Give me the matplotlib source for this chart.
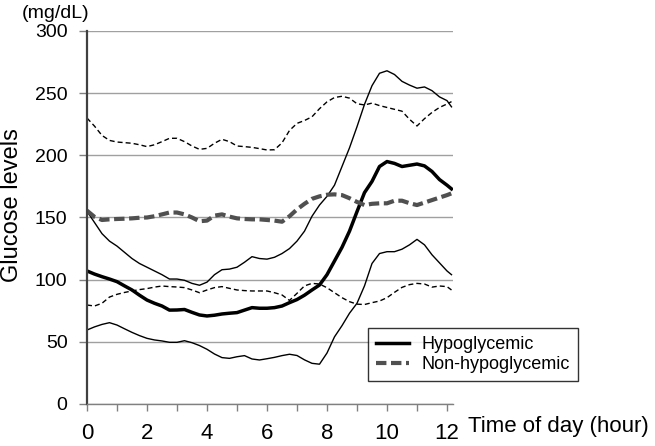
import numpy as np
import matplotlib
matplotlib.use('Agg')
import matplotlib.pyplot as plt

plt.rcParams['font.family'] = ['Liberation Sans', 'DejaVu Sans']

# time of day (hour), quarter-hour readings
hours = [0, 0.25, 0.5, 0.75, 1, 1.25, 1.5, 1.75, 2, 2.25, 2.5, 2.75,
         3, 3.25, 3.5, 3.75, 4, 4.25, 4.5, 4.75, 5, 5.25, 5.5, 5.75,
         6, 6.25, 6.5, 6.75, 7, 7.25, 7.5, 7.75, 8, 8.25, 8.5, 8.75,
         9, 9.25, 9.5, 9.75, 10, 10.25, 10.5, 10.75, 11, 11.25, 11.5, 11.75,
         12, 12.15]

# hypoglycemic group: mean, upper, lower
hypo_mean = [107, 104.5, 102.4, 100.5, 98.4, 95, 91.7, 87.5, 83.6, 81, 78.8, 75.5,
             75.6, 76, 73.7, 71.6, 70.8, 71.4, 72.4, 73, 73.5, 75.5, 77.5, 77,
             77, 77.5, 78.8, 81.5, 84, 87.5, 91.7, 95.7, 104, 115, 126, 139,
             154.7, 170, 179, 191, 195, 193.5, 191, 192, 193, 191.5, 187, 180.5,
             176, 173]
hypo_upper = [155, 146, 137, 131, 127, 122, 117, 113, 110, 107, 104, 100.5,
              100.5, 99.5, 97, 95.5, 98, 104, 108, 108.5, 110, 114, 118.5, 117,
              116.5, 118, 121, 125, 131, 139, 151, 160, 167, 176, 191, 206,
              223, 241, 256, 266, 268, 265, 259.5, 256.5, 254, 255, 252, 247,
              244, 239]
hypo_lower = [59.5, 62, 64, 65.4, 63.5, 60.5, 57.6, 55, 52.8, 51.5, 50.7, 49.6,
              49.6, 50.9, 49.3, 47, 44, 40.2, 37.3, 36.7, 38, 38.9, 36.2, 35.4,
              36.4, 37.5, 38.9, 40, 39, 35.5, 32.7, 32, 41, 54, 63, 73,
              81, 95, 113, 121, 122.5, 122.5, 124.5, 128, 132.4, 128, 120, 113.5,
              107, 104]

# non-hypoglycemic group: mean, upper, lower
non_mean = [155.5, 150.5, 148, 148.5, 148.8, 149, 149.3, 149.8, 150, 151, 152.5, 154,
            154, 152.5, 150, 147, 147.5, 151.5, 152.5, 150.7, 149.3, 148.8, 148.5, 148.5,
            148, 147.5, 146.6, 151, 156.5, 161, 165, 167, 168.3, 168.6, 168, 165.5,
            162.5, 160, 161, 161.4, 161.4, 163.5, 163.5, 161.5, 160, 162, 164, 166,
            168, 169.4]
non_upper = [230, 223.5, 216, 212, 210.7, 210.2, 209.7, 208.5, 207, 208.5, 211, 213.7,
             213.7, 211, 207.5, 204.8, 205.6, 209.7, 212.9, 211, 207.5, 207, 206.4, 205.4,
             204.3, 204.5, 210, 220, 225.7, 228, 231, 237.5, 243, 246.5, 247.5, 246,
             241.5, 240.5, 242, 240, 238.5, 237, 235.5, 229, 223.6, 229.5, 234.5, 238.5,
             241.3, 243.2]
non_lower = [79.6, 78.8, 81, 86, 88.2, 89.7, 90.9, 92, 92.8, 94, 94.9, 94.4,
             94.1, 93.6, 91.7, 89.5, 91.7, 93.6, 94.4, 93, 91.7, 91.2, 90.9, 90.9,
             90.9, 89.5, 87.7, 83.3, 89, 95, 97, 96.5, 93.5, 89.5, 85.5, 82.3,
             80.3, 80, 81.5, 82.8, 85.5, 89.8, 93.8, 96, 97, 96.5, 94, 94.9,
             94.4, 91.7]

xticks = [0, 2, 4, 6, 8, 10, 12]
yticks = [0, 50, 100, 150, 200, 250, 300]

fig = plt.figure(figsize=(6.55, 4.46), dpi=100)
ax = fig.add_axes([0.1328, 0.0942, 0.5588, 0.8363])

ax.plot(hours, hypo_upper, color='black', lw=1.0)
ax.plot(hours, hypo_lower, color='black', lw=1.0)
ax.plot(hours, non_upper, color='black', lw=1.0, linestyle=(0, (3.6, 2.2)))
ax.plot(hours, non_lower, color='black', lw=1.0, linestyle=(0, (3.6, 2.2)))
l1, = ax.plot(hours, hypo_mean, color='black', lw=2.5, solid_joinstyle='round')
l2, = ax.plot(hours, non_mean, color='#505050', lw=3.0, linestyle=(0, (2.5, 1.1)))

ax.set_xlim(0, 12.2)
ax.set_ylim(0, 300)
ax.set_xticks(xticks)
ax.set_xticks(range(0, 13), minor=True)
ax.set_yticks(yticks)
ax.tick_params(axis='x', which='both', direction='out', length=5, width=1, color='#808080')
ax.tick_params(axis='x', labelsize=16, pad=9)
ax.tick_params(axis='y', direction='out', length=6, width=1, color='#808080', labelsize=14, pad=8)

ax.grid(axis='y', color='#a0a0a0', lw=1.0)
ax.set_axisbelow(True)
for s in ['top', 'right']:
    ax.spines[s].set_visible(False)
ax.spines['left'].set_color('#404040')
ax.spines['left'].set_linewidth(1.6)
ax.spines['bottom'].set_color('#808080')
ax.spines['bottom'].set_linewidth(1.0)

fig.text(56 / 655, 1 - 13 / 446, '(mg/dL)', fontsize=14, ha='center', va='center')
fig.text(12 / 655, 1 - 205 / 446, 'Glucose levels', fontsize=17, rotation=90,
         ha='center', va='center')
fig.text(468 / 655, 1 - 432 / 446, 'Time of day (hour)', fontsize=16, ha='left', va='baseline')

leg = fig.legend([l1, l2], ['Hypoglycemic', 'Non-hypoglycemic'],
                 loc='lower left', bbox_to_anchor=(368 / 655, 1 - 381 / 446),
                 borderaxespad=0, fontsize=13, frameon=True, fancybox=False,
                 handlelength=1.8, handletextpad=0.7, labelspacing=0.15,
                 borderpad=0.45)
leg.get_frame().set_edgecolor('black')
leg.get_frame().set_linewidth(1.0)

plt.savefig('out.png', dpi=100)
